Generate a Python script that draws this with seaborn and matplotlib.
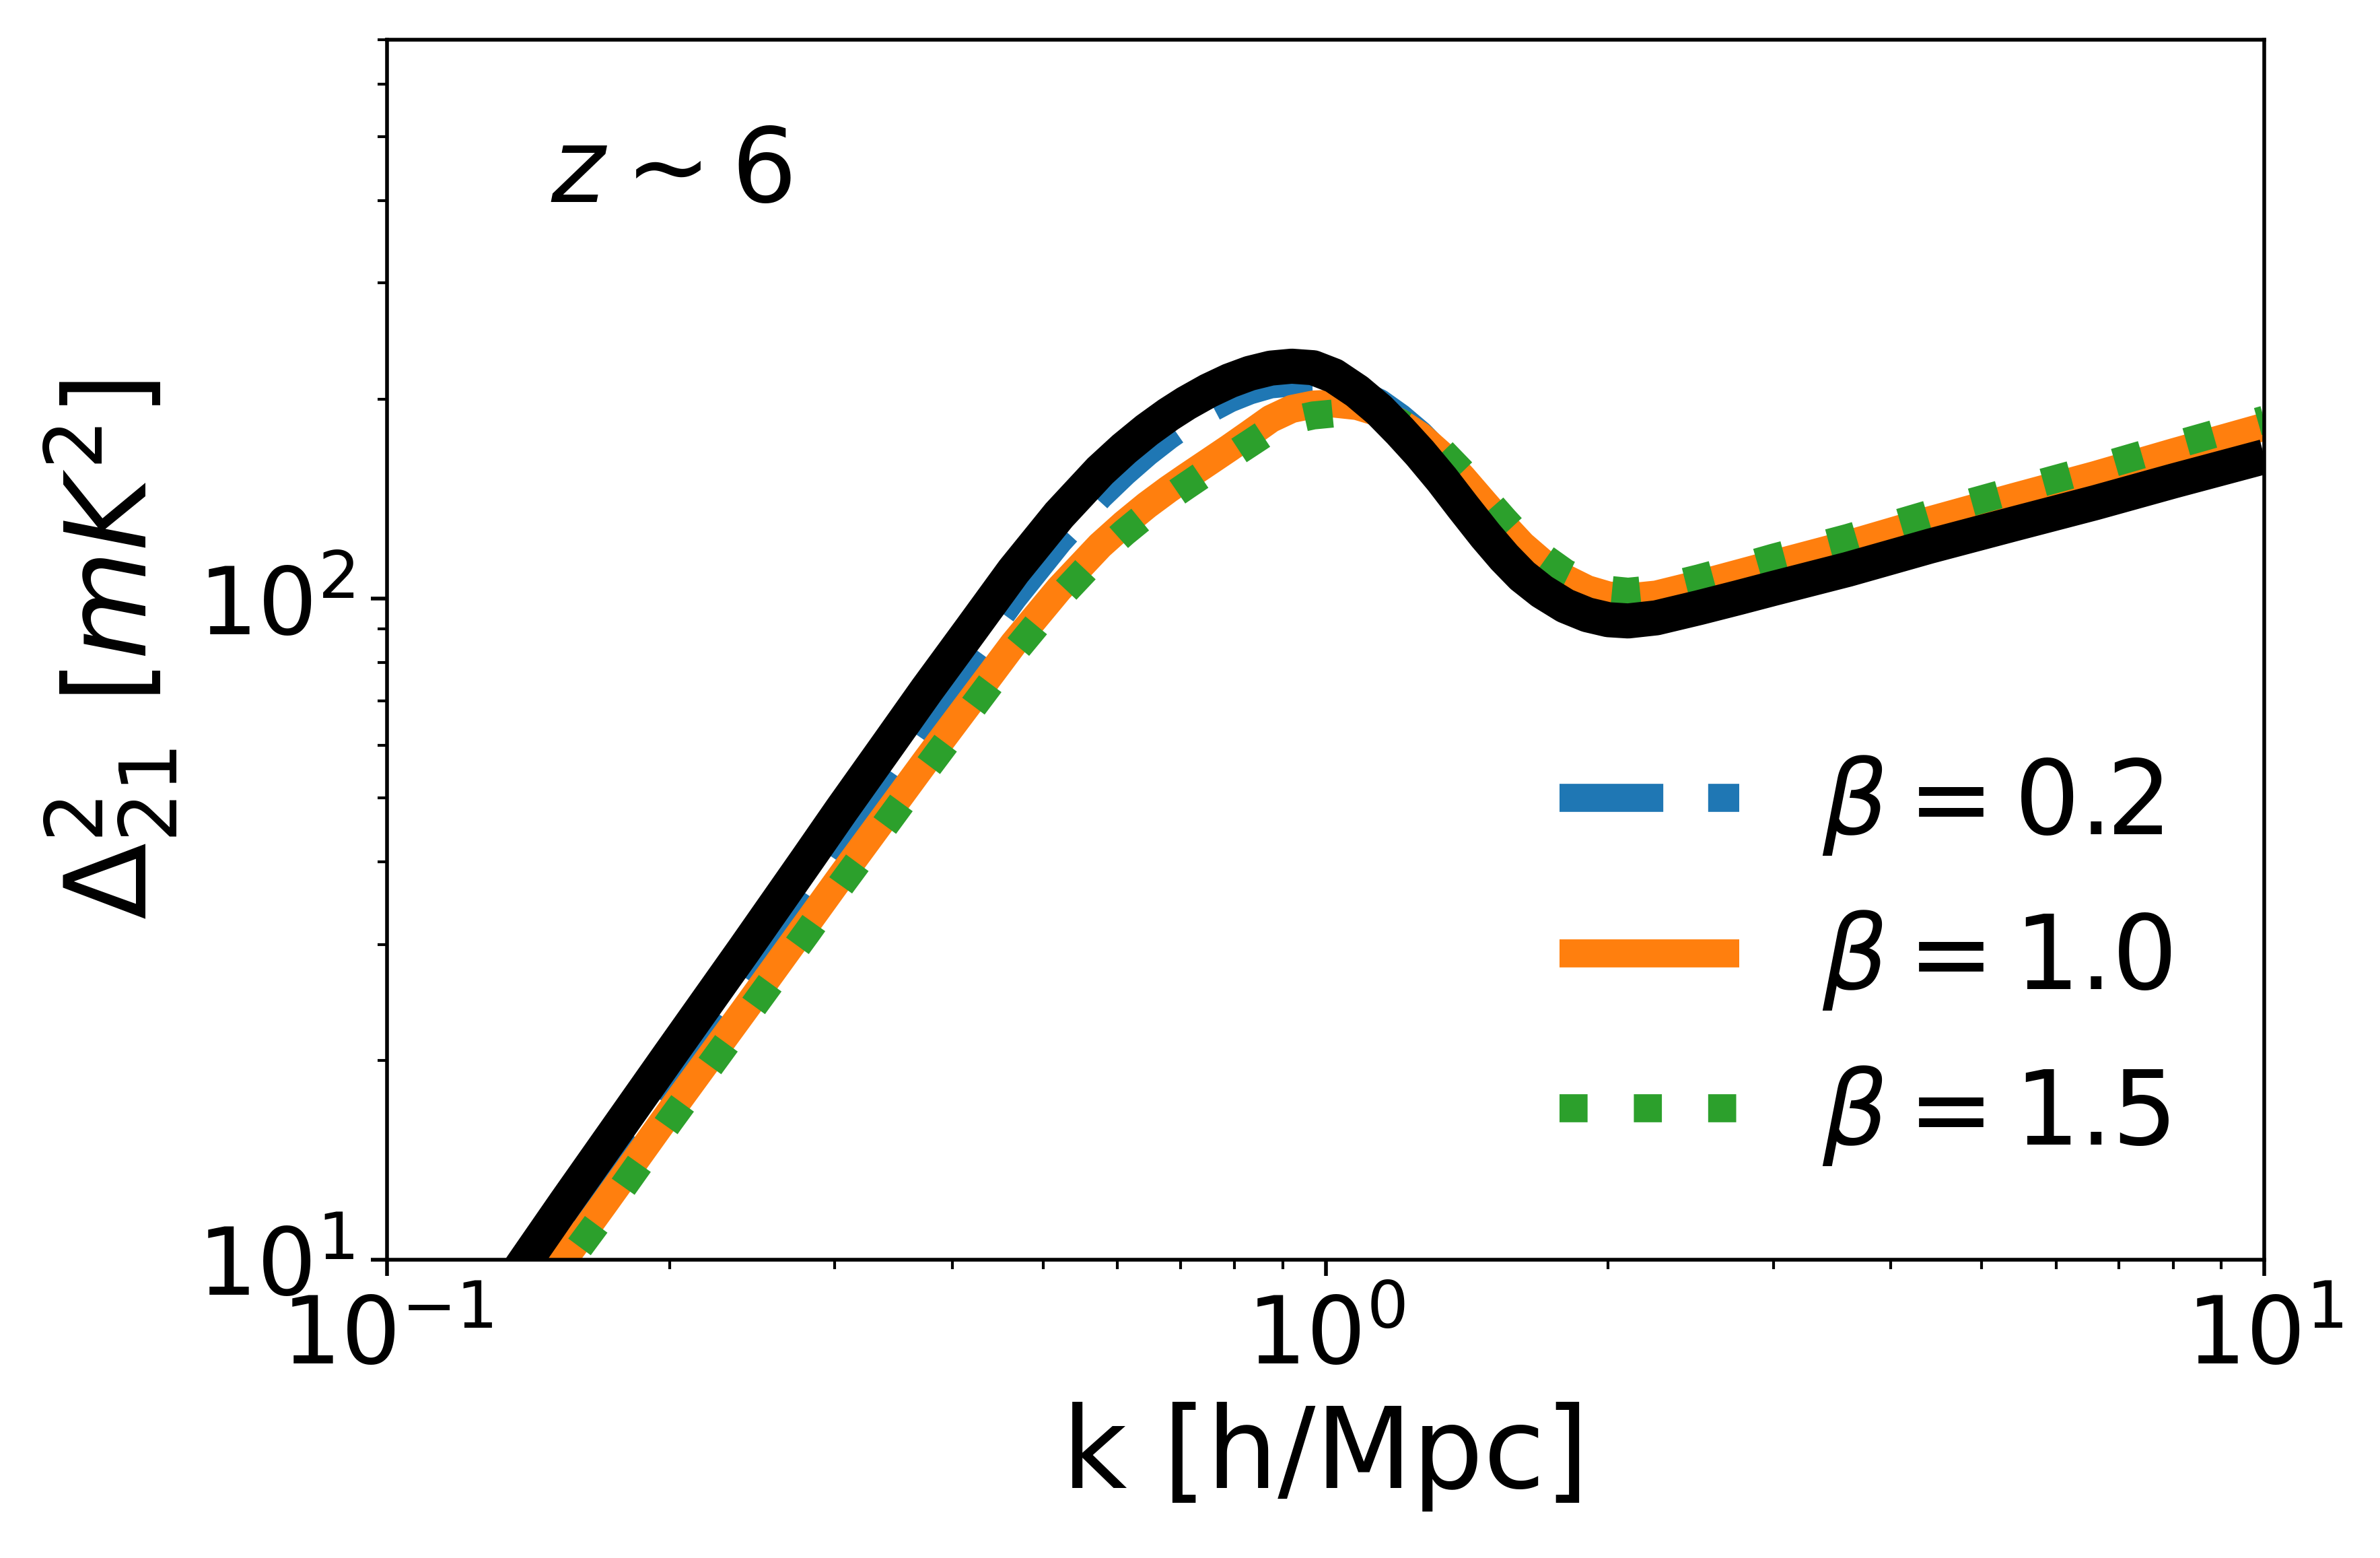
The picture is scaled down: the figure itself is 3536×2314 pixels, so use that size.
import matplotlib
matplotlib.use("Agg")
import matplotlib.pyplot as plt
import seaborn as sns

# values (k in h/Mpc, Delta^2_21 in mK^2)
k = [0.13, 0.14, 0.155, 0.17, 0.20, 0.24, 0.28, 0.305, 0.34, 0.376,
     0.42, 0.465, 0.52, 0.575, 0.61, 0.645, 0.68, 0.71, 0.75, 0.79,
     0.83, 0.874, 0.92, 0.97, 1.02, 1.08, 1.14, 1.20, 1.26, 1.33,
     1.40, 1.48, 1.55, 1.62, 1.70, 1.80, 1.90, 2.00, 2.10, 2.25,
     2.50, 2.75, 3.00, 3.60, 4.40, 5.40, 6.60, 8.00, 10.0]

delta_ref = [8.5, 9.9, 12.2, 14.7, 20.4, 29.4, 40.2, 47.9, 59.5, 72.8,
             90.2, 110, 133.8, 156, 168.5, 179.8, 189.8, 197.4, 206.2, 213.5,
             219.1, 223.1, 224.6, 223.4, 217.3, 205.8, 192.9, 179.1, 166, 151.4,
             137.7, 124.6, 115.4, 108.2, 102.5, 97.5, 94.5, 92.9, 92.5, 93.5,
             96.9, 100.3, 103.6, 110.7, 120, 129.6, 139.6, 150.6, 163.9]

delta_b02 = [7.4, 8.6, 10.6, 12.9, 18.0, 26.1, 36.0, 43.1, 53.8, 66.2,
             82.3, 100.4, 122.4, 143.2, 155.2, 166.3, 176.3, 184, 193, 200.7,
             206.4, 210.8, 212.2, 212.7, 210.8, 204.8, 197.7, 187.7, 177, 163.5,
             149.8, 135.8, 125.3, 116.6, 109.5, 103.1, 99.1, 96.9, 96.2, 97.3,
             101.3, 105.2, 109, 116.9, 127.1, 137.5, 148.4, 160.2, 174.6]

delta_b10 = [7.06, 8.2, 10.1, 12.1, 16.7, 23.8, 32.2, 38.1, 47, 57.1,
             70.4, 85.4, 103.4, 120.3, 129.7, 138.4, 146.3, 152.6, 160.8, 169.0,
             177.5, 187, 193.5, 196.5, 197.2, 195.5, 191, 184.5, 176.3, 164.7,
             152.2, 138.9, 128.9, 120.5, 113.6, 107.3, 103.3, 101.1, 100.4, 101.4,
             105.2, 109.1, 112.8, 120.8, 131.3, 142.3, 153.7, 166.4, 181.9]

delta_b15 = [6.85, 7.95, 9.8, 11.7, 16.2, 23.1, 31.2, 37, 45.6, 55.4,
             68.3, 82.8, 100.3, 116.7, 125.8, 134.2, 141.9, 148, 156, 163.9,
             171.6, 180.1, 186.1, 189.2, 190.5, 190.6, 188.7, 184.5, 177.7, 167,
             154.9, 141.7, 131.5, 122.9, 115.9, 109.4, 105.4, 103.1, 102.4, 103.4,
             107.3, 111.3, 115.3, 123.5, 134.3, 145.6, 157.4, 170.4, 186.4]

labels = [r"$\beta=0.2$", r"$\beta=1.0$", r"$\beta=1.5$"]

sns.set_style("ticks")
plt.rcParams.update({
    "font.family": ["DejaVu Sans"],
    "mathtext.fontset": "dejavusans",
    "axes.edgecolor": "black",
    "axes.linewidth": 0.8,
    "text.color": "black",
    "axes.labelcolor": "black",
    "xtick.color": "black",
    "ytick.color": "black",
    "xtick.major.size": 3.5,
    "ytick.major.size": 3.5,
    "xtick.minor.size": 2.0,
    "ytick.minor.size": 2.0,
    "xtick.major.width": 0.8,
    "ytick.major.width": 0.8,
    "xtick.minor.width": 0.6,
    "ytick.minor.width": 0.6,
    "lines.solid_capstyle": "butt",
    "lines.solid_joinstyle": "round",
})

fig, ax = plt.subplots(figsize=(7.072, 4.628), dpi=500)
fig.subplots_adjust(left=0.1626, right=0.9514, bottom=0.1914, top=0.9745)
ax.set_xscale("log")
ax.set_yscale("log")

sns.lineplot(x=k, y=delta_b02, ax=ax, color="#1f77b4", lw=6, ls="--", label=labels[0], sort=False)
sns.lineplot(x=k, y=delta_b10, ax=ax, color="#ff7f0e", lw=6, ls="-", label=labels[1], sort=False)
sns.lineplot(x=k, y=delta_b15, ax=ax, color="#2ca02c", lw=6, ls=":", label=labels[2], sort=False)
sns.lineplot(x=k, y=delta_ref, ax=ax, color="black", lw=7.5, ls="-", sort=False)

ax.set_xlim(0.1, 10)
ax.set_ylim(10, 700)
ax.tick_params(axis="both", which="major", labelsize=20)
ax.set_xlabel("k [h/Mpc]", fontsize=24)
ax.set_ylabel(r"$\Delta^2_{21}$ [$mK^2$]", fontsize=24)
ax.text(0.087, 0.867, r"$z\sim6$", transform=ax.transAxes, fontsize=22)

ax.legend(loc="lower right", frameon=False, fontsize=22, handlelength=1.75)

fig.savefig("out.png", dpi=500)
